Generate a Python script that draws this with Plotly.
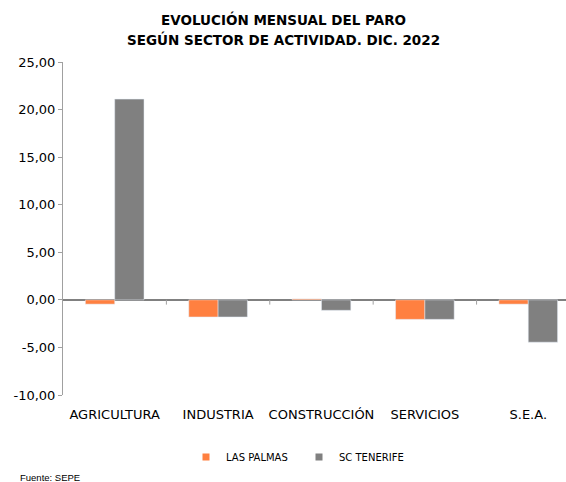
import plotly.graph_objects as go

categories = ["AGRICULTURA", "INDUSTRIA", "CONSTRUCCIÓN", "SERVICIOS", "S.E.A."]
las_palmas = [-0.45, -1.8, 0.1, -2.05, -0.45]
sc_tenerife = [21.1, -1.8, -1.1, -2.05, -4.45]
y_ticks = [-10, -5, 0, 5, 10, 15, 20, 25]
y_tick_labels = ["-10,00", "-5,00", "0,00", "5,00", "10,00", "15,00", "20,00", "25,00"]

ORANGE = "#FF8040"
GRAY = "#808080"
FONT = "DejaVu Sans, Verdana, sans-serif"

L, R, T, B = 63, 0, 62, 87
W, H = 566, 482
PW, PH = W - L - R, H - T - B

fig = go.Figure()
fig.add_trace(go.Bar(x=categories, y=las_palmas, name="LAS PALMAS", marker_color=ORANGE,
                     showlegend=False))
fig.add_trace(go.Bar(x=categories, y=sc_tenerife, name="SC TENERIFE", marker_color=GRAY,
                     showlegend=False))
# legend entries with small square symbols
for name, col in [("LAS PALMAS", ORANGE), ("SC TENERIFE", GRAY)]:
    fig.add_trace(go.Scatter(x=[None], y=[None], mode="markers", name=name,
                             marker=dict(symbol="square", size=7, color=col)))

shapes = []
for i in range(len(categories) - 1):
    shapes.append(dict(type="line", xref="x", yref="y", x0=i + 0.5, x1=i + 0.5,
                       y0=0, y1=-0.5, line=dict(color="#A0A0A0", width=1)))

fig.update_layout(
    width=W, height=H,
    margin=dict(l=L, r=R, t=T, b=B, autoexpand=False),
    paper_bgcolor="white", plot_bgcolor="white",
    barmode="group", bargap=0.433, bargroupgap=0,
    font=dict(family=FONT, color="black", size=12),
    showlegend=True,
    legend=dict(orientation="h", x=(186 - L) / PW, xanchor="left",
                y=-(457 - (T + PH)) / PH, yanchor="middle",
                font=dict(size=10), entrywidth=68, entrywidthmode="pixels",
                traceorder="normal", bgcolor="rgba(0,0,0,0)"),
    shapes=shapes,
)
fig.update_xaxes(type="category", range=[-0.5, 4.365], showgrid=False, showline=False,
                 ticks="", tickfont=dict(size=13), automargin=False, ticklabelstandoff=10)
fig.update_yaxes(range=[-10, 25], tickvals=y_ticks, ticktext=y_tick_labels, showgrid=False,
                 showline=True, linecolor="#A0A0A0", linewidth=1, ticks="outside", ticklen=4,
                 tickcolor="#A0A0A0", zeroline=True, zerolinecolor="#808080", zerolinewidth=1.5,
                 tickfont=dict(size=13), automargin=False)

fig.add_annotation(text="<b>EVOLUCIÓN MENSUAL DEL PARO</b>", xref="paper", yref="paper",
                   x=(283 - L) / PW, y=1 + (T - 20) / PH, xanchor="center", yanchor="middle",
                   showarrow=False, font=dict(size=13.5, family=FONT))
fig.add_annotation(text="<b>SEGÚN SECTOR DE ACTIVIDAD. DIC. 2022</b>", xref="paper", yref="paper",
                   x=(283 - L) / PW, y=1 + (T - 40) / PH, xanchor="center", yanchor="middle",
                   showarrow=False, font=dict(size=13.5, family=FONT))
fig.add_annotation(text="Fuente: SEPE", xref="paper", yref="paper",
                   x=(18 - L) / PW, y=-(477 - (T + PH)) / PH,
                   xanchor="left", yanchor="middle", showarrow=False,
                   font=dict(size=9.5, family="Liberation Sans, Arial, sans-serif"))

fig.write_html("out.html", post_script="document.body.style.margin='0';",
               config={"displayModeBar": False})
